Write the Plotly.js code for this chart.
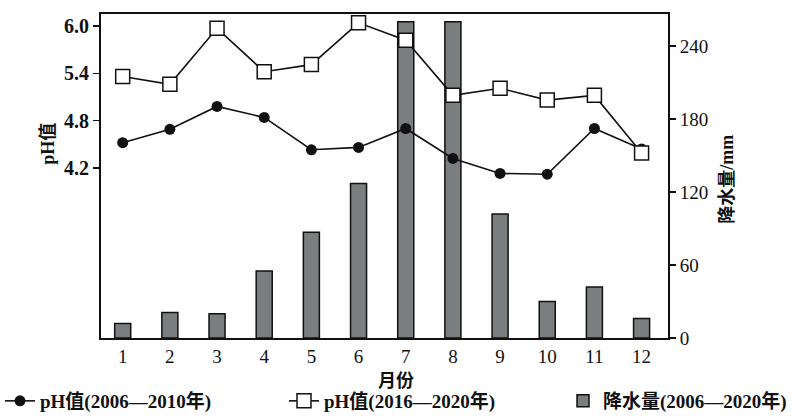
<!DOCTYPE html>
<html>
<head>
<meta charset="utf-8">
<script src="https://cdn.plot.ly/plotly-3.0.1.min.js"></script>
<style>html,body{margin:0;padding:0;background:#fff;}#chart{width:796px;height:420px;}</style>
</head>
<body>
<div id="chart"></div>
<script>
const months = [1,2,3,4,5,6,7,8,9,10,11,12];
const monthLabels = ['1','2','3','4','5','6','7','8','9','10','11','12'];
const ph2006 = [4.52,4.69,4.98,4.84,4.43,4.46,4.70,4.32,4.13,4.12,4.70,4.44];
const ph2016 = [5.36,5.26,5.97,5.42,5.51,6.04,5.82,5.12,5.21,5.06,5.12,4.39];
const rain = [12,21,20,55,87,127,260,260,102,30,42,16];
const phTicks = [4.2,4.8,5.4,6.0];
const phTickText = ['4.2','4.8','5.4','6.0'];
const rainTicks = [0,60,120,180,240];

const serif = '"Liberation Serif", "Times New Roman", "Noto Sans CJK SC", serif';
const legFont = {family:serif, size:19, color:'#111', weight:'bold'};

const data = [
  {x: months, y: ph2006, type:'scatter', mode:'lines+markers', yaxis:'y2',
   name:'pH值(2006—2010年)', legend:'legend',
   line:{color:'#111', width:1.6},
   marker:{symbol:'circle', size:11, color:'#111'}},
  {x: months, y: ph2016, type:'scatter', mode:'lines+markers', yaxis:'y2',
   name:'pH值(2016—2020年)', legend:'legend2',
   line:{color:'#111', width:1.6},
   marker:{symbol:'square', size:14, color:'#fff', line:{color:'#111', width:1.5}}},
  {x: months, y: rain, type:'bar', yaxis:'y', width:0.34,
   name:'降水量(2006—2020年)', legend:'legend3',
   marker:{color:'#7a7e7e', line:{color:'#111', width:1.5}}}
];

function leg(x) {
  return {orientation:'h', xref:'container', yref:'container', x:x, y:-0.014,
          xanchor:'left', yanchor:'bottom', font:legFont, bgcolor:'rgba(0,0,0,0)'};
}

const layout = {
  width:796, height:420,
  margin:{l:101, r:128, t:14, b:82, autoexpand:false},
  paper_bgcolor:'#fff', plot_bgcolor:'#fff',
  font:{family:serif, color:'#111', size:18},
  showlegend:true,
  legend: leg(0.0),
  legend2: leg(284/796),
  legend3: leg(563/796),
  xaxis:{range:[0.54,12.56], tickvals:months, ticktext:monthLabels, showgrid:false,
         zeroline:false, showline:true, linecolor:'#111', linewidth:2, mirror:true,
         ticks:'', tickfont:{size:19, family:serif}},
  yaxis:{side:'right', range:[0,266.3], tickvals:rainTicks, showgrid:false, zeroline:false,
         showline:true, linecolor:'#111', linewidth:2, ticks:'outside', ticklen:6,
         tickcolor:'#111', tickwidth:1.5, tickfont:{size:19, family:serif}},
  yaxis2:{side:'left', overlaying:'y', range:[2.043,6.152], tickvals:phTicks, ticktext:phTickText,
          showgrid:false, zeroline:false, showline:true, linecolor:'#111', linewidth:2,
          ticks:'outside', ticklen:6, tickcolor:'#111', tickwidth:1.5,
          tickfont:{size:20, family:serif, weight:'bold'}},
  annotations:[
    {text:'pH值', xref:'paper', yref:'paper', x:-0.095, y:0.6, xanchor:'center', yanchor:'middle',
     textangle:-90, showarrow:false, font:{size:18, family:serif, weight:'bold'}},
    {text:'降水量/mm', xref:'paper', yref:'paper', x:1.105, y:0.49, xanchor:'center', yanchor:'middle',
     textangle:-90, showarrow:false, font:{size:18, family:serif, weight:'bold'}},
    {text:'月份', xref:'paper', yref:'paper', x:0.52, y:-0.133, xanchor:'center', yanchor:'middle',
     showarrow:false, font:{size:18, family:serif, weight:'bold'}}
  ]
};

Plotly.newPlot('chart', data, layout, {displayModeBar:false, staticPlot:true});
</script>
</body>
</html>
